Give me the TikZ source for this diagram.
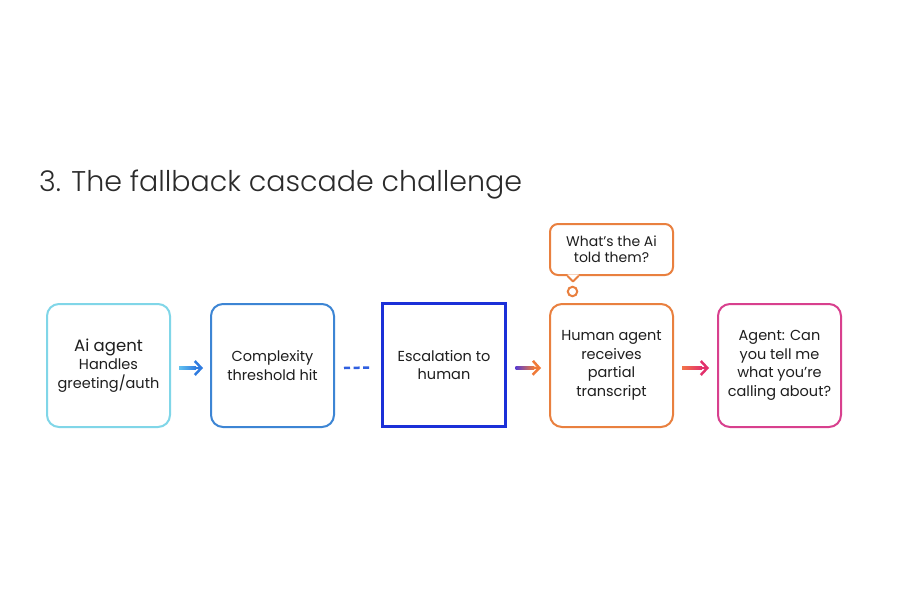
\documentclass[tikz,border=0pt]{standalone}
\usepackage{fontspec}
\setmainfont{Poppins}
\newfontfamily\titlefont{Poppins Light}
\usetikzlibrary{arrows.meta,calc}
\definecolor{titlec}{HTML}{2B2B2B}
\definecolor{textc}{HTML}{1E1E1E}
\definecolor{cyanb}{HTML}{80D6E8}
\definecolor{blueb}{HTML}{3D85D4}
\definecolor{deepb}{HTML}{1B30D8}
\definecolor{orangeb}{HTML}{E9803F}
\definecolor{pinkb}{HTML}{D8408E}
\definecolor{arrA}{HTML}{62C2F0}
\definecolor{arrB}{HTML}{2F7BE0}
\definecolor{dashc}{HTML}{2F5FE0}
\definecolor{arrC}{HTML}{5A3CD0}
\definecolor{arrD}{HTML}{F07A38}
\definecolor{arrE}{HTML}{F27448}
\definecolor{arrF}{HTML}{E2306C}
\tikzset{
  box/.style={draw, line width=2pt, rounded corners=12pt, minimum width=123pt,
    minimum height=123pt, align=center, text=textc, inner sep=0pt,
    font=\fontsize{14.5}{18.5}\selectfont},
  conn/.style={line width=2.5pt, -{Straight Barb[length=6.5pt,width=14pt]}},
  bubble/.style={draw=orangeb, line width=2pt, rounded corners=8pt, minimum width=123pt,
    minimum height=51pt, align=center, text=textc, inner sep=0pt, fill=white,
    font=\fontsize{14}{16}\selectfont}
}
\begin{document}
\begin{tikzpicture}[x=1pt,y=-1pt]
\useasboundingbox (0,0) rectangle (900,600);
\fill[white] (0,0) rectangle (900,600);

\node[anchor=base west, font=\titlefont\fontsize{28.5}{34}\selectfont, text=titlec, inner sep=0pt]
  (title) at (39,191) {3. The fallback cascade challenge};

\node[box, draw=cyanb] (b1) at (108.5,365.5)
  {{\fontsize{16.5}{19}\selectfont Ai agent}\\Handles\\greeting/auth};
\node[box, draw=blueb] (b2) at (272.5,365.5) {Complexity\\threshold hit};
\node[box, draw=deepb, line width=3pt, rounded corners=0pt] (b3) at (444,365) {Escalation to\\human};
\node[box, draw=orangeb] (b4) at (611.5,365.5) {Human agent\\receives\\partial\\transcript};
\node[box, draw=pinkb] (b5) at (779.5,365.5) {Agent: Can\\you tell me\\what you’re\\calling about?};

% speech bubble
\node[bubble] (bub) at (611.5,249.5) {What’s the Ai\\told them?};
\fill[white] ([shift={(18.5,-1.6)}]bub.south west) -- ([shift={(29.5,-1.6)}]bub.south west)
  -- ([shift={(29.5,0.3)}]bub.south west) -- ([shift={(24,5)}]bub.south west)
  -- ([shift={(18.5,0.3)}]bub.south west) -- cycle;
\draw[orangeb, line width=2pt, line join=round, line cap=round]
  ([xshift=18.5pt]bub.south west) -- ([shift={(24,5.5)}]bub.south west) -- ([xshift=29.5pt]bub.south west);
\node[circle, draw=orangeb, line width=2pt, minimum size=9.5pt, inner sep=0pt] (dot) at (572.5,291.5) {};

% connectors
\draw[conn, arrB] ([shift={(8,2.5)}]b1.east) -- ([shift={(-7,2.5)}]b2.west);
\shade[left color=arrA, right color=arrB] ([shift={(8,1.25)}]b1.east) rectangle ([shift={(-14,3.75)}]b2.west);

\draw[line width=2.5pt, dash pattern=on 6pt off 3.6pt, dashc] ([shift={(9,2.5)}]b2.east) -- ([shift={(-8.5,2.5)}]b3.west);

\draw[conn, arrD] ([shift={(8.5,2.5)}]b3.east) -- ([shift={(-8,2.5)}]b4.west);
\shade[left color=arrC, right color=arrD] ([shift={(8.5,1.25)}]b3.east) rectangle ([shift={(-15,3.75)}]b4.west);

\draw[conn, arrF] ([shift={(8,2.5)}]b4.east) -- ([shift={(-8,2.5)}]b5.west);
\shade[left color=arrE, right color=arrF] ([shift={(8,1.25)}]b4.east) rectangle ([shift={(-15,3.75)}]b5.west);
\end{tikzpicture}
\end{document}
